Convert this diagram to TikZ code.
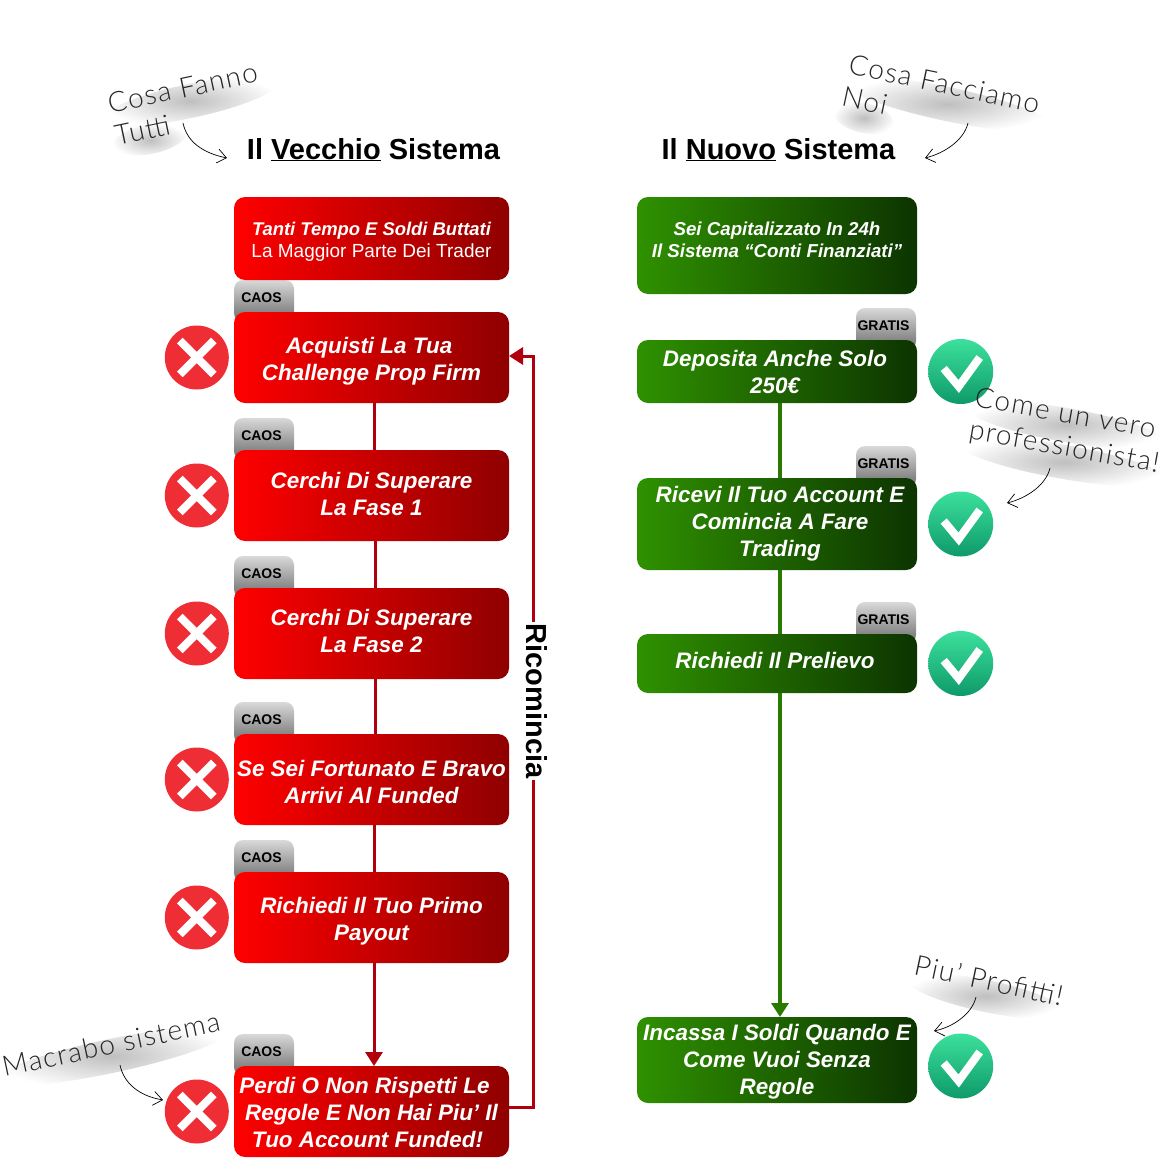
\documentclass[tikz,border=0pt]{standalone}
\usepackage{fontspec}
\setmainfont{Liberation Sans}
\newfontfamily\notafont{Lato}[UprightFont=* Light,LetterSpace=5]
\usetikzlibrary{positioning,arrows.meta,backgrounds,fadings}

\tikzfading[name=sfumato, inner color=transparent!75, outer color=transparent!100]

\newcommand{\giu}[1]{\rule{0pt}{#1pt}}
\newcommand{\su}[1]{\rule[-#1pt]{0pt}{#1pt}}

\definecolor{rossochiaro}{HTML}{FF0000}
\definecolor{rossoscuro}{HTML}{8F0000}
\definecolor{verdechiaro}{HTML}{2F9100}
\definecolor{verdescuro}{HTML}{0C3400}
\definecolor{filorosso}{HTML}{B0000E}
\definecolor{filoverde}{HTML}{2A7A00}
\definecolor{tondorosso}{HTML}{EF2D35}
\definecolor{tondochiaro}{HTML}{3CE09C}
\definecolor{tondoscuro}{HTML}{0E9A6A}

\begin{document}
\begin{tikzpicture}[
    x=1pt, y=-1pt,
    rosso/.style={rounded corners=11pt, left color=rossochiaro, right color=rossoscuro,
                  minimum width=275pt, minimum height=91pt, align=center, text=white, inner sep=0pt, outer sep=0pt,
                  font=\fontsize{22.4}{27}\selectfont\bfseries\itshape},
    verde/.style={rounded corners=11pt, left color=verdechiaro, right color=verdescuro,
                  minimum width=280pt, align=center, text=white, inner sep=0pt, outer sep=0pt,
                  font=\fontsize{22.4}{27}\selectfont\bfseries\itshape},
    etichetta/.style={rounded corners=9pt, top color=black!15, bottom color=black!58,
                  minimum width=60pt, inner sep=0pt, outer sep=0pt, text height=22pt, text depth=20pt,
                  font=\fontsize{14}{14}\selectfont\bfseries, execute at end node=\hspace*{5pt}},
    caos/.style={etichetta, anchor=south west, yshift=-10pt},
    gratis/.style={etichetta, anchor=south east, yshift=-10pt, xshift=-1pt},
    titolo/.style={font=\fontsize{29}{32}\selectfont\bfseries},
    nota/.style={font=\fontsize{28}{33}\selectfont\notafont, text=black!85, align=left, inner sep=0pt},
    ko/.style={circle, minimum size=64pt, inner sep=0pt, fill=tondorosso,
               path picture={\draw[white, line width=8pt]
                 ([shift={(-17,-17)}]path picture bounding box.center) -- ([shift={(17,17)}]path picture bounding box.center)
                 ([shift={(-17,17)}]path picture bounding box.center) -- ([shift={(17,-17)}]path picture bounding box.center);}},
    ok/.style={circle, minimum size=65pt, inner sep=0pt, top color=tondochiaro, bottom color=tondoscuro,
               path picture={\draw[white, line width=8pt]
                 ([shift={(-17,-3)}]path picture bounding box.center) -- ([shift={(-2,15)}]path picture bounding box.center)
                 -- ([shift={(19,-14)}]path picture bounding box.center);}},
    filor/.style={filorosso, line width=3pt},
    filov/.style={filoverde, line width=3.3pt},
    freccia/.style={-{Triangle[length=14pt,width=17pt]}},
    ricciolo/.style={-{Straight Barb[length=9pt,width=14pt]}, black, line width=0.7pt}
]
\useasboundingbox (0,0) rectangle (1164,1172);

% ombre sfumate sotto le note
\foreach \x/\y/\r/\a/\b in {190/101/12/90/17, 150/139/12/38/15, 947/104/-12/108/17, 864/118/-12/30/15,
    1066/425/-10/102/17, 1064/462/-10/108/17, 111/1056/12/122/17, 986/996/-12/82/16}
  \fill[black, path fading=sfumato, rotate around={\r:(\x,\y)}] (\x,\y) ellipse ({\a} and {\b});

% colonna del vecchio sistema
\node[rosso, minimum height=83pt, font=\fontsize{18.4}{22}\selectfont\bfseries\itshape] (r0) at (371.5,238.5)
    {\giu{19}Tanti Tempo E Soldi Buttati\\
     {\fontsize{19}{22}\selectfont\mdseries\upshape La Maggior Parte Dei Trader}};
\node[rosso, below=32pt of r0] (r1) {\giu{23}\hspace*{-5pt}Acquisti La Tua\\Challenge Prop Firm};
\node[rosso, below=47pt of r1] (r2) {Cerchi Di Superare\\La Fase 1\su{4}};
\node[rosso, below=47pt of r2] (r3) {Cerchi Di Superare\\La Fase 2\su{6}};
\node[rosso, below=55pt of r3] (r4) {\giu{22}Se Sei Fortunato E Bravo\\Arrivi Al Funded};
\node[rosso, below=47pt of r4] (r5) {\giu{24}Richiedi Il Tuo Primo\\Payout};
\node[rosso, below=103pt of r5] (r6) {\giu{18}Perdi O Non Rispetti Le\hspace*{14pt}\\Regole E Non Hai Piu’ Il\hspace*{14pt}\\Tuo Account Funded!\hspace*{8pt}};

\node[titolo, anchor=base] (vecchio) at (373.5,159) {Il \underline{Vecchio} Sistema};

% colonna del nuovo sistema
\node[verde, minimum height=97pt, font=\fontsize{18.7}{22}\selectfont\bfseries\itshape] (g0) at (777,245.5)
    {Sei Capitalizzato In 24h\\Il Sistema “Conti Finanziati”\\[-10pt]\mbox{}};
\node[verde, minimum height=63pt, below=46pt of g0] (g1) {Deposita Anche Solo\hspace*{4pt}\\250€\hspace*{4pt}};
\node[verde, minimum height=92pt, below=75pt of g1] (g2) {\hspace*{6pt}Ricevi Il Tuo Account E\\\hspace*{6pt}Comincia A Fare\\\hspace*{6pt}Trading};
\node[verde, minimum height=59pt, below=64pt of g2] (g3) {Richiedi Il Prelievo\hspace*{4pt}\su{6}};
\node[verde, minimum height=86pt, below=324pt of g3] (g4) {\giu{20}Incassa I Soldi Quando E\\Come Vuoi Senza\\Regole};

\node[titolo, anchor=base] (nuovo) at (778.5,159) {Il \underline{Nuovo} Sistema};

% le etichette stanno dietro ai riquadri
\begin{scope}[on background layer]
  \foreach \n in {r1,r2,r3,r4,r5,r6}
    \node[caos] (t\n) at (\n.north west) {CAOS};
  \foreach \n in {g1,g2,g3}
    \node[gratis] (t\n) at (\n.north east) {GRATIS};
\end{scope}

\foreach \n in {r1,r2,r3,r4,r5,r6}
  \node[ko, left=5pt of \n] (k\n) {};
\foreach \n in {g1,g2,g3}
  \node[ok, right=11pt of \n] (k\n) {};
\node[ok, right=11pt of g4, yshift=-6pt] (kg4) {};

% connettori rossi
\draw[filor] ([xshift=2.5pt]r1.south) -- ([xshift=2.5pt]r2.north);
\draw[filor] ([xshift=3.5pt]r2.south) -- ([xshift=3.5pt]r3.north);
\draw[filor] ([xshift=3.5pt]r3.south) -- ([xshift=3.5pt]r4.north);
\draw[filor] ([xshift=2.5pt]r4.south) -- ([xshift=2.5pt]r5.north);
\draw[filor, freccia] ([xshift=2.5pt]r5.south) -- ([xshift=2.5pt]r6.north);

% si ricomincia dall'inizio
\coordinate (ritorno) at ([xshift=24pt,yshift=4pt]r6.east);
\draw[filor, freccia] ([yshift=4pt]r6.east) -- (ritorno) |- ([yshift=1.5pt]r1.east);
\node[fill=white, rotate=-90, inner sep=2pt, font=\fontsize{29}{30}\selectfont\bfseries] (ricomincia) at (537,701) {Ricomincia};

% connettori verdi
\draw[filov] ([xshift=3pt]g1.south) -- ([xshift=3pt]g2.north);
\draw[filov] ([xshift=3pt]g2.south) -- ([xshift=3pt]g3.north);
\draw[filov, freccia] ([xshift=3pt]g3.south) -- ([xshift=3pt]g4.north);

% note a mano
\node[nota, rotate=12] (nota1) at (186,104) {Cosa Fanno\\Tutti};
\node[nota, rotate=-12] (nota2) at (941,100) {Cosa Facciamo\\Noi};
\node[nota, rotate=-10] (nota3) at (1067,432) {Come un vero\\professionista!};
\node[nota, rotate=12] (nota4) at (111,1044) {Macrabo sistema};
\node[nota, rotate=-12] (nota5) at (989,980) {Piu’ Profitti!};

\coordinate (a1) at (183,123);
\coordinate (b1) at (227,158);
\draw[ricciolo] (a1) .. controls (187,142) and (203,153) .. (b1);
\coordinate (a2) at (968,123);
\coordinate (b2) at (925,158);
\draw[ricciolo] (a2) .. controls (964,140) and (945,153) .. (b2);
\coordinate (a3) at (1050,468);
\coordinate (b3) at (1007,503);
\draw[ricciolo] (a3) .. controls (1046,485) and (1027,498) .. (b3);
\coordinate (a4) at (120,1065);
\coordinate (b4) at (163,1100);
\draw[ricciolo] (a4) .. controls (124,1084) and (140,1096) .. (b4);
\coordinate (a5) at (976,997);
\coordinate (b5) at (934,1031);
\draw[ricciolo] (a5) .. controls (972,1014) and (953,1027) .. (b5);

\end{tikzpicture}
\end{document}
